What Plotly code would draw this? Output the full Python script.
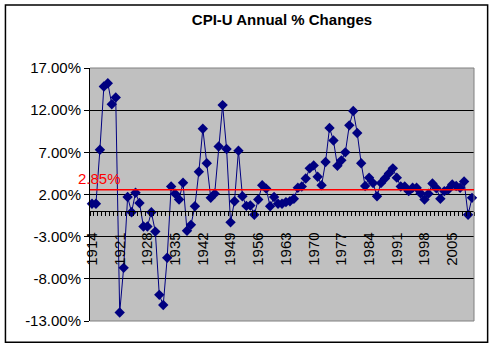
import plotly.graph_objects as go

years = list(range(1914, 2011))
cpi_change = [
    0.9, 0.9, 7.3, 14.8, 15.2, 12.7, 13.5, -12.0, -6.7, 1.7,   # 1914-1923
    -0.1, 2.2, 1.0, -1.8, -1.8, -0.1, -2.4, -9.9, -11.1, -5.5,  # 1924-1933
    2.95, 2.1, 1.4, 3.4, -2.3, -1.6, 0.6, 4.7, 9.8, 5.7,        # 1934-1943
    1.6, 2.1, 7.7, 12.6, 7.4, -1.3, 1.2, 7.2, 1.8, 0.65,        # 1944-1953
    0.7, -0.4, 1.4, 3.1, 2.7, 0.6, 1.7, 0.9, 0.9, 1.1,          # 1954-1963
    1.2, 1.5, 2.8, 2.95, 3.9, 5.1, 5.45, 4.1, 3.1, 5.85,        # 1964-1973
    9.9, 8.4, 5.4, 6.05, 7.0, 10.2, 11.9, 9.3, 5.7, 3.0,        # 1974-1983
    4.0, 3.35, 1.8, 3.35, 3.9, 4.5, 5.1, 4.0, 2.95, 2.95,       # 1984-1993
    2.4, 2.8, 2.8, 2.15, 1.4, 2.1, 3.3, 2.75, 1.5, 2.4,         # 1994-2003
    2.6, 3.2, 3.0, 2.8, 3.55, -0.4, 1.6,                        # 2004-2010
]
avg_label = "2.85%"
avg_line_level = 2.55
y_ticks = [-13, -8, -3, 2, 7, 12, 17]
y_tick_text = ["-13.00%", "-8.00%", "-3.00%", "2.00%", "7.00%", "12.00%", "17.00%"]
title_text = "CPI-U Annual % Changes"

navy = "#000080"

fig = go.Figure()
fig.add_trace(go.Scatter(
    x=years, y=cpi_change, mode="lines+markers",
    line=dict(color=navy, width=1),
    marker=dict(symbol="diamond", size=8, color=navy),
    cliponaxis=False, showlegend=False, hoverinfo="skip",
))

fig.update_layout(
    width=493, height=364,
    margin=dict(l=90, r=19, t=68, b=43),
    paper_bgcolor="white", plot_bgcolor="#C0C0C0",
    font=dict(family="Arial, Liberation Sans", color="black", size=15),
    title=dict(text="<b>" + title_text + "</b>", x=0.5, xanchor="center",
               y=1 - 20 / 364, yanchor="middle", xref="paper",
               font=dict(size=15, family="Arial, Liberation Sans", color="black")),
    xaxis=dict(
        range=[1913.5, 2010.5], anchor="free", position=13 / 30,
        tickmode="linear", tick0=1914, dtick=7, tickangle=-90,
        ticks="", ticklabelstandoff=14,
        showgrid=False, zeroline=False,
        showline=True, linecolor="black", linewidth=1,
        tickfont=dict(size=15),
        minor=dict(tickmode="linear", tick0=1913.5, dtick=1, ticks="outside",
                   ticklen=4, tickcolor="black", showgrid=False),
    ),
    yaxis=dict(
        range=[-13, 17], tickmode="array", tickvals=y_ticks, ticktext=y_tick_text,
        showgrid=True, gridcolor="black", gridwidth=1, zeroline=False,
        showline=True, linecolor="black", linewidth=1,
        ticks="outside", ticklen=5, tickcolor="black",
        tickfont=dict(size=15), domain=[0, 1],
    ),
    shapes=[
        dict(type="path", xref="paper", yref="paper",
             path="M 0,0 L 1,0 L 1,1 L 0,1", line=dict(color="#808080", width=1),
             layer="above"),
        dict(type="line", xref="paper", yref="y", x0=0, x1=1,
             y0=avg_line_level, y1=avg_line_level,
             line=dict(color="red", width=1.5), layer="above"),
        dict(type="rect", xref="paper", yref="paper",
             x0=-0.2202, x1=1.0355, y0=-0.0843, y1=1.2493,
             line=dict(color="black", width=1.5), layer="below"),
    ],
    annotations=[
        dict(text=avg_label, xref="paper", yref="y", x=-0.037, y=3.95,
             xanchor="left", yanchor="middle", showarrow=False,
             font=dict(color="red", size=15, family="Arial, Liberation Sans")),
    ],
)

fig.write_html("out.html", config={"displayModeBar": False},
               post_script="document.body.style.margin='0';document.body.style.overflow='hidden';")
